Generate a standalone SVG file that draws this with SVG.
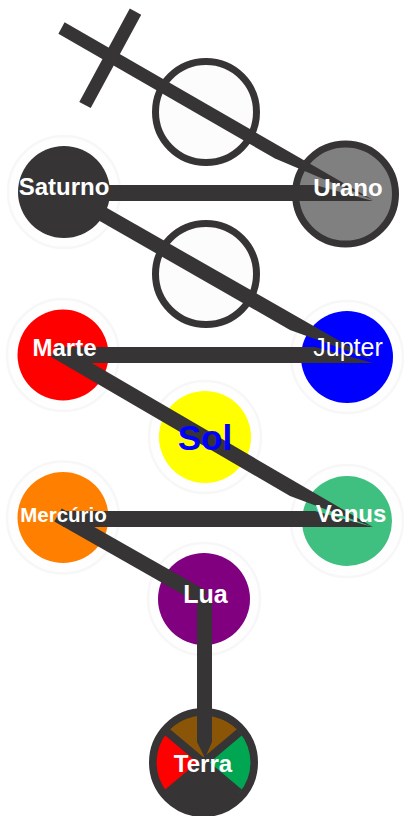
<svg xmlns="http://www.w3.org/2000/svg" width="404" height="816" viewBox="0 0 404 816">
<style>
.halo{fill:#fefefe;stroke:#f7f7f7;stroke-width:2.5}
.hollow{fill:#fcfcfc;stroke:#363435;stroke-width:7}
.link{fill:#363435;stroke:none}
.lbl{font-family:"Liberation Sans",Arial,sans-serif;font-weight:bold;font-size:24px;fill:#ffffff;text-anchor:middle}
</style>
<rect width="404" height="816" fill="#ffffff"/>
<g id="nodes">
  <g id="hollow-top"><circle class="hollow" cx="206" cy="112" r="50.5"/></g>
  <g id="hollow-mid"><circle class="hollow" cx="206" cy="274" r="50.5"/></g>
  <g id="saturno"><circle class="halo" cx="64" cy="192" r="56"/><circle cx="64" cy="192" r="46" fill="#363435"/></g>
  <g id="urano"><circle cx="345.5" cy="194" r="50" fill="#808080" stroke="#363435" stroke-width="7"/></g>
  <g id="marte"><circle class="halo" cx="63" cy="355" r="56"/><circle cx="63" cy="355" r="45.5" fill="#ff0000"/></g>
  <g id="jupter"><circle class="halo" cx="347" cy="357" r="56"/><circle cx="347" cy="357" r="46" fill="#0000ff"/></g>
  <g id="sol"><circle class="halo" cx="205" cy="437" r="56"/><circle cx="205" cy="437" r="46" fill="#ffff00"/></g>
  <g id="mercurio"><circle class="halo" cx="63" cy="517.5" r="56"/><circle cx="63" cy="517.5" r="45.5" fill="#ff8000"/></g>
  <g id="venus"><circle class="halo" cx="347" cy="521" r="56"/><circle cx="347" cy="521" r="45" fill="#40c080"/></g>
  <g id="lua"><circle class="halo" cx="204" cy="599" r="56"/><circle cx="204" cy="599" r="46" fill="#800080"/></g>
  <g id="terra">
    <circle cx="203.5" cy="762.5" r="51" fill="#363435" stroke="#363435" stroke-width="7"/>
    <path d="M203.5,762.5 L167.5,732.3 A47,47 0 0 1 239.5,732.3 Z" fill="#8a5506"/>
    <path d="M203.5,762.5 L239.5,732.3 A47,47 0 0 1 239.5,792.7 Z" fill="#00a651"/>
    <path d="M203.5,762.5 L167.5,792.7 A47,47 0 0 1 167.5,732.3 Z" fill="#ff0000"/>
    <path d="M167.5,732.3 L239.5,792.7 M239.5,732.3 L167.5,792.7" stroke="#363435" stroke-width="8" fill="none"/>
  </g>
</g>
<g id="connectors">
  <polygon class="link" points="64.6,22.3 373,200 275,158.5 58.4,33.7"/>
  <line x1="85" y1="105" x2="135.5" y2="11.7" stroke="#363435" stroke-width="13"/>
  <polygon class="link" points="64,185 315,185 373,201 64,201"/>
  <polygon class="link" points="67.6,185.4 373,360 290,329.9 60.4,198.6"/>
  <polygon class="link" points="63,347 315,347 373,363 63,363"/>
  <polygon class="link" points="58.3,343.6 373,527 290,496 51,356.7"/>
  <polygon class="link" points="63,511 315,511 373,527 63,527"/>
  <polygon class="link" points="54.3,521.5 200.3,604.5 207.7,591.5 61.7,508.5"/>
  <polygon class="link" points="197,598 212,598 212,742 205,758 197,742"/>
</g>
<g id="labels">
  <text class="lbl" x="64" y="195">Saturno</text>
  <text class="lbl" x="348" y="196">Urano</text>
  <text class="lbl" x="64.5" y="356">Marte</text>
  <text class="lbl" x="348" y="356" style="font-weight:normal;font-size:25px">Jupter</text>
  <text class="lbl" x="205" y="450" style="font-size:35px;fill:#0000ff">Sol</text>
  <text class="lbl" x="63.5" y="522" style="font-size:20.5px">Mercúrio</text>
  <text class="lbl" x="351" y="522">Venus</text>
  <text class="lbl" x="205.5" y="603" style="font-size:25px">Lua</text>
  <text class="lbl" x="203" y="772">Terra</text>
</g>
</svg>
